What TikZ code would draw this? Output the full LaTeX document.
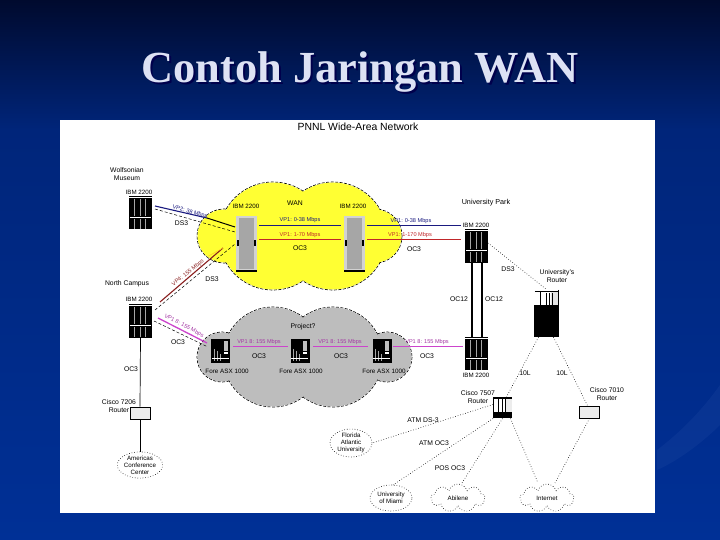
\documentclass[tikz,border=0pt]{standalone}
\usepackage{fontspec}
\setmainfont{Liberation Sans}
\newfontfamily\titlefont{Liberation Serif}
\usetikzlibrary{calc,shapes.symbols,shapes.geometric}
\definecolor{bgtop}{HTML}{000A2E}
\definecolor{bgmid}{HTML}{00257A}
\definecolor{bgbot}{HTML}{003096}
\definecolor{titlec}{HTML}{DDE2F4}
\definecolor{wanyellow}{HTML}{FFFF33}
\definecolor{cloudgray}{HTML}{BDBDBD}
\definecolor{vpblue}{HTML}{1A1A80}
\definecolor{vpred}{HTML}{C0262A}
\definecolor{vpdark}{HTML}{8A2020}
\definecolor{vpmag}{HTML}{CC44CC}
\newcommand{\detibm}[1]{\begin{scope}[shift={(#1.north west)}]
  \fill[white] (0,0) rectangle (23,2);
  \draw[black,line width=.4pt] (0,.2)--(23,.2);
  \fill[white] (1,21) rectangle (22,22);
  \foreach \q in {5.5,11,16.5}{\draw[gray!70,line width=.6pt] (\q,3)--(\q,20) (\q,23)--(\q,33);}
\end{scope}}
\newcommand{\detbig}[1]{\begin{scope}[shift={(#1.north west)}]
  \fill[gray!70] (3,2) rectangle (18,53);
  \fill[black] (0,54) rectangle (21,56);
  \fill[black] (1,24) rectangle (3,30);
  \fill[black] (18,24) rectangle (20,30);
\end{scope}}
\newcommand{\detfore}[1]{\begin{scope}[shift={(#1.north west)}]
  \fill[gray!50] (13,2) rectangle (17,12);
  \fill[white] (13,13) rectangle (17,15);
  \draw[gray!70,line width=.5pt] (3,10)--(3,22) (6,12)--(6,22) (9,15)--(9,22);
  \draw[white,line width=.5pt] (1,19)--(18,19);
\end{scope}}
\newcommand{\detrbig}[1]{\begin{scope}[shift={(#1.north west)}]
  \fill[white] (0,0) rectangle (25,15);
  \fill[gray!20] (17,1) rectangle (25,15);
  \draw[black,line width=.5pt] (1,1)--(24,1) (6,2)--(6,15) (12,3)--(12,15) (15,3)--(15,15) (18,3)--(18,15) (24,0)--(24,15);
\end{scope}}
\newcommand{\detrmid}[1]{\begin{scope}[shift={(#1.north west)}]
  \fill[white] (1,1) rectangle (19,15);
  \fill[gray!15] (12,2) rectangle (19,15);
  \draw[black,line width=.5pt] (0,1)--(19,1) (5,2)--(5,15) (9,2)--(9,15) (12,2)--(12,15);
\end{scope}}
\tikzset{
  lbl/.style={font=\fontsize{6.8}{7.6}\selectfont,inner sep=0pt,align=center,text=black},
  vplbl/.style={font=\fontsize{5.6}{6.4}\selectfont,inner sep=0pt},
  ibmbox/.style={rectangle,inner sep=0pt,minimum width=23pt,minimum height=33pt,fill=black},
  bigbox/.style={rectangle,inner sep=0pt,minimum width=21pt,minimum height=56pt,fill=gray!35},
  forebox/.style={rectangle,inner sep=0pt,minimum width=19pt,minimum height=24pt,fill=black},
  routerbig/.style={rectangle,inner sep=0pt,minimum width=25pt,minimum height=47pt,fill=black},
  routermid/.style={rectangle,inner sep=0pt,minimum width=19pt,minimum height=21pt,fill=black},
  routersmall/.style={rectangle,draw=black,line width=.7pt,fill=gray!15,inner sep=0pt,minimum width=20pt,minimum height=12pt},
  dotlink/.style={black,dotted,line width=.6pt},
  dashlink/.style={black,densely dashed,line width=.5pt},
  dotcloud/.style={draw=black,dotted,line width=.6pt,fill=white,inner sep=0pt,align=center,font=\fontsize{6.2}{7}\selectfont},
  cloudedge/.style={draw=black,dash pattern=on 3pt off 1.5pt,line width=.7pt}
}
\begin{document}
\begin{tikzpicture}[x=1pt,y=-1pt]
\useasboundingbox (0,0) rectangle (720,540);
\shade[top color=bgtop,bottom color=bgmid] (0,0) rectangle (720,130);
\shade[top color=bgmid,bottom color=bgbot] (0,130) rectangle (720,540);
\fill[bgbot!85!white,opacity=.22] (720,385) .. controls (695,420) and (670,440) .. (657,450) -- (657,470) .. controls (680,460) and (705,440) .. (720,425) -- cycle;
\node[font=\titlefont\bfseries\fontsize{44.4}{48}\selectfont,text=black!70!blue,inner sep=0pt] (titleshadow) at (362,74) {Contoh Jaringan WAN};
\node[font=\titlefont\bfseries\fontsize{44.4}{48}\selectfont,text=titlec,inner sep=0pt] (title) at (360,72) {Contoh Jaringan WAN};
\fill[white] (60,120) rectangle (655,513);

% clouds
\foreach \c/\r in {224/27,273/54,333/54,375/27}{\path[cloudedge] (\c,236) circle[radius=\r];}
\foreach \c/\r in {224/27,273/54,333/54,375/27}{\fill[wanyellow] (\c,236) circle[radius=\r-.5];}
\foreach \c/\r in {222/25,273/50,333/50,387/25}{\path[cloudedge] (\c,357) circle[radius=\r];}
\foreach \c/\r in {222/25,273/50,333/50,387/25}{\fill[cloudgray] (\c,357) circle[radius=\r-.5];}

% devices
\node[ibmbox] (wolf) at (140.5,212.5) {};
\node[ibmbox] (north) at (140.5,321) {};
\node[ibmbox] (uptop) at (476.5,246) {};
\node[ibmbox] (upbot) at (476.5,353.5) {};
\node[bigbox] (wanl) at (246.5,244) {};
\node[bigbox] (wanr) at (354.5,244) {};
\node[forebox] (fa) at (220.5,351) {};
\node[forebox] (fb) at (300,351) {};
\node[forebox] (fc) at (382,351) {};
\node[routerbig] (rbig) at (546.5,313.5) {};
\node[routermid] (rmid) at (502.5,407.5) {};
\node[routersmall] (rsmall) at (589.5,412) {};
\node[routersmall] (r7206) at (140,413) {};
\detibm{wolf}\detibm{north}\detibm{uptop}\detibm{upbot}
\detbig{wanl}\detbig{wanr}
\detfore{fa}\detfore{fb}\detfore{fc}
\detrbig{rbig}\detrmid{rmid}
\node[dotcloud,ellipse,minimum width=42pt,minimum height=24pt] (conf) at (140,465) {Americas\\Conference\\Center};
\node[dotcloud,ellipse,minimum width=42pt,minimum height=24pt] (fau) at (351,443) {Florida\\Atlantic\\University};
\node[dotcloud,ellipse,minimum width=42pt,minimum height=26pt] (um) at (391,498) {University\\of Miami};
\node[dotcloud,cloud,cloud puffs=9,aspect=3,minimum width=54pt,minimum height=28pt] (abi) at (458,498) {Abilene};
\node[dotcloud,cloud,cloud puffs=9,aspect=3,minimum width=54pt,minimum height=28pt] (inet) at (547,498) {Internet};

% Wolfsonian - WAN
\draw[vpblue,line width=1.1pt] ([shift={(14.5,-6.5)}]wolf.center) -- ([shift={(-39.5,-26)}]wanl.center);
\draw[black,line width=1pt] ([shift={(-39.5,-26)}]wanl.center) -- ([shift={(-11.5,-17)}]wanl.center);
\draw[dashlink] ([shift={(14.5,-3.5)}]wolf.center) -- ([shift={(-11.5,-12)}]wanl.center);
\node[vplbl,text=vpblue,rotate=-15] (v1) at (190,212) {VP2: 38 Mbps};
\node[lbl] (d1) at (181.5,223.5) {DS3};
% North - WAN
\draw[vpdark,line width=1.1pt] ([shift={(19.5,-19)}]north.center) -- ([shift={(-23.5,4)}]wanl.center);
\draw[wanyellow!60!orange,line width=.5pt] ([shift={(-38,12)}]wanl.center) -- ([shift={(-23.5,4)}]wanl.center);
\draw[dashlink] ([shift={(14.5,-11)}]north.center) -- ([shift={(-11.5,0)}]wanl.center);
\node[vplbl,text=vpdark,rotate=38] (v2) at (188,273) {VP4: 155 Mbps};
\node[lbl] (d2) at (212,279) {DS3};
% WAN trunk
\draw[vpblue,line width=.8pt] ([shift={(12.5,-19)}]wanl.center) -- ([shift={(-13.5,-19)}]wanr.center);
\draw[vpred,line width=.8pt] ([shift={(12.5,-5)}]wanl.center) -- ([shift={(-13.5,-5)}]wanr.center);
\node[vplbl,text=vpblue] (v3) at (300,220.5) {VP1: 0-38 Mbps};
\node[vplbl,text=vpred] (v4) at (300,235) {VP1: 1-70 Mbps};
\node[lbl] (o1) at (300,248) {OC3};
\draw[vpblue,line width=.8pt] ([shift={(12.5,-19)}]wanr.center) -- ([shift={(-15.5,-21)}]uptop.center);
\draw[vpred,line width=.8pt] ([shift={(12.5,-5)}]wanr.center) -- ([shift={(-15.5,-7)}]uptop.center);
\node[vplbl,text=vpblue] (v5) at (411,221) {VP1: 0-38 Mbps};
\node[vplbl,text=vpred] (v6) at (410,235) {VP1: 1-170 Mbps};
\node[lbl] (o2) at (414,249) {OC3};
% University Park
\draw[black,line width=1.1pt] ([xshift=-4.5pt]uptop.south) -- ([xshift=-4.5pt]upbot.north);
\draw[black,line width=1.1pt] ([xshift=5.5pt]uptop.south) -- ([xshift=5.5pt]upbot.north);
\node[lbl] (o12a) at (459,299) {OC12};
\node[lbl] (o12b) at (494,299) {OC12};
\draw[dotlink] ([shift={(11.5,-3)}]uptop.center) -- ([shift={(0,-24)}]rbig.center);
\node[lbl] (ds3r) at (508,269) {DS3};
\draw[dotlink] ([xshift=-8pt]rbig.south) -- ([xshift=4pt]rmid.north);
\draw[dotlink] ([xshift=7pt]rbig.south) -- ([xshift=-2pt]rsmall.north);
\node[lbl] (t1) at (525,373) {10L};
\node[lbl] (t2) at (562,373) {10L};
\draw[dotlink] ([shift={(-9.5,-3)}]rmid.center) -- (fau.east);
\draw[dotlink] ([shift={(-9.5,11)}]rmid.center) -- ([shift={(2,-13)}]um.center);
\draw[dotlink] ([shift={(0,11)}]rmid.center) -- ([shift={(4,-15)}]abi.center);
\draw[dotlink] ([shift={(8,11)}]rmid.center) -- ([shift={(-9,-15)}]inet.center);
\draw[dotlink] (rsmall.south) -- ([shift={(8,-15)}]inet.center);
\node[lbl] (l1) at (423,420) {ATM DS-3};
\node[lbl] (l2) at (434,443) {ATM OC3};
\node[lbl] (l3) at (450,468) {POS OC3};
% North - ATM
\draw[vpmag,line width=1.3pt] ([shift={(17.5,-3)}]north.center) -- ([shift={(-13.5,-8)}]fa.center);
\draw[dashlink] ([shift={(13.5,0)}]north.center) -- ([shift={(-12.5,-4)}]fa.center);
\node[vplbl,text=vpmag!80!black,rotate=-27.5] (v7) at (184,326) {VP1 8: 155 Mbps};
\node[lbl] (o3) at (178,342) {OC3};
\draw[vpmag,line width=1pt] ([shift={(12.5,-5)}]fa.center) -- ([shift={(-12,-5)}]fb.center);
\draw[vpmag,line width=1pt] ([shift={(13,-5)}]fb.center) -- ([shift={(-14,-5)}]fc.center);
\draw[vpmag,line width=1pt] ([shift={(11,-5)}]fc.center) -- ([shift={(-13.5,-7.5)}]upbot.center);
\node[vplbl,text=vpmag!80!black] (v8) at (259,342.5) {VP1 8: 155 Mbps};
\node[vplbl,text=vpmag!80!black] (v9) at (340,342.5) {VP1 8: 155 Mbps};
\node[vplbl,text=vpmag!80!black] (v10) at (427,342.5) {VP1 8: 155 Mbps};
\node[lbl] (o4) at (259,356) {OC3};
\node[lbl] (o5) at (341,356) {OC3};
\node[lbl] (o6) at (427,356) {OC3};
\draw[black,line width=.7pt] (north.south) -- (r7206.north);
\node[lbl] (o7) at (131,369) {OC3};
\draw[black,line width=.7pt] (r7206.south) -- (conf.north);

% labels
\node[lbl,font=\fontsize{10.4}{12}\selectfont] (head) at (358,127) {PNNL Wide-Area Network};
\node[lbl] (wolflab) at (127,174) {Wolfsonian\\Museum};
\node[lbl,font=\fontsize{6.2}{7}\selectfont] (ibm1) at (139,192) {IBM 2200};
\node[lbl] (nclab) at (127,284) {North Campus};
\node[lbl,font=\fontsize{6.2}{7}\selectfont] (ibm2) at (139,299.5) {IBM 2200};
\node[lbl,font=\fontsize{6.2}{7}\selectfont] (ibm3) at (246,206) {IBM 2200};
\node[lbl,font=\fontsize{6.2}{7}\selectfont] (ibm4) at (353,206) {IBM 2200};
\node[lbl] (wan) at (295,203) {WAN};
\node[lbl,font=\fontsize{7.2}{8}\selectfont] (uplab) at (486,203) {University Park};
\node[lbl,font=\fontsize{6.2}{7}\selectfont] (ibm5) at (476,225) {IBM 2200};
\node[lbl,font=\fontsize{6.2}{7}\selectfont] (ibm6) at (476,375) {IBM 2200};
\node[lbl] (urlab) at (557,276) {University's\\Router};
\node[lbl] (proj) at (303,327) {Project?};
\node[lbl,font=\fontsize{6.3}{7}\selectfont] (fa1) at (227,371) {Fore ASX 1000};
\node[lbl,font=\fontsize{6.3}{7}\selectfont] (fb1) at (301,371) {Fore ASX 1000};
\node[lbl,font=\fontsize{6.3}{7}\selectfont] (fc1) at (384,371) {Fore ASX 1000};
\node[lbl] (r1) at (119,406) {Cisco 7206\\Router};
\node[lbl] (r2) at (478,397) {Cisco 7507\\Router};
\node[lbl] (r3) at (607,394) {Cisco 7010\\Router};
\end{tikzpicture}
\end{document}
